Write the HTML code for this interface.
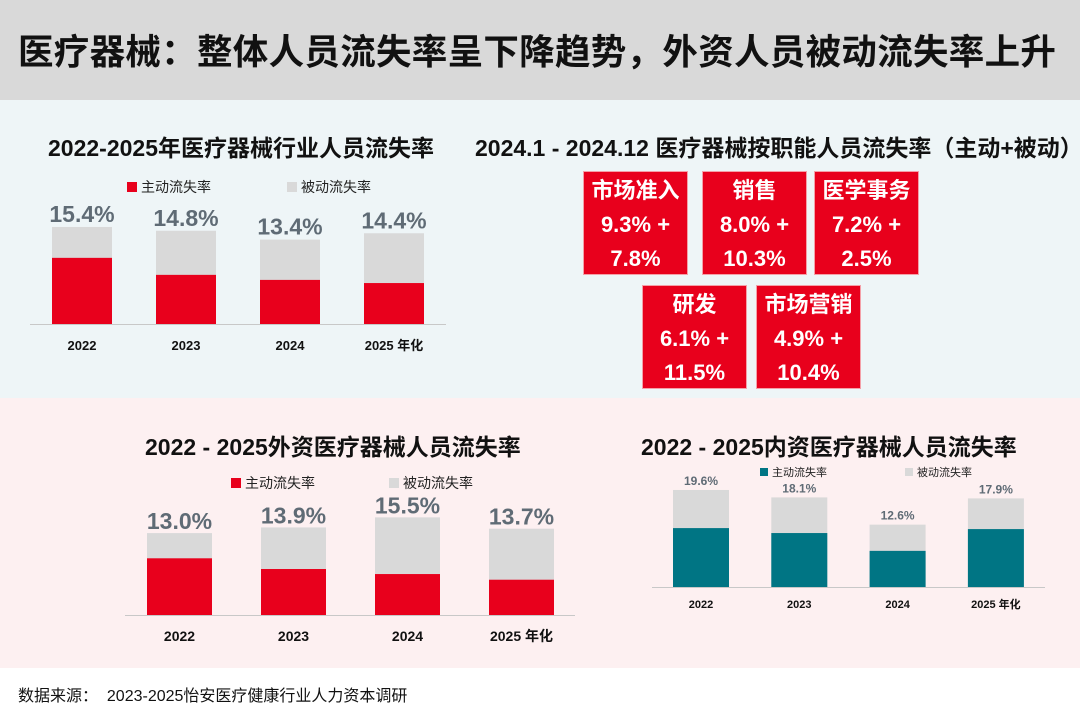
<!DOCTYPE html>
<html><head><meta charset="utf-8">
<style>
*{margin:0;padding:0;box-sizing:border-box}
body{width:1080px;height:718px;position:relative;background:#fff;font-family:"Liberation Sans","Noto Sans CJK SC",sans-serif;overflow:hidden}
.abs{position:absolute}
#titlebar{left:0;top:0;width:1080px;height:100px;background:#d9d9d9}
#title{left:18px;top:24px;font-size:35.5px;font-weight:bold;color:#111;white-space:nowrap;letter-spacing:0.3px}
#topbg{left:0;top:100px;width:1080px;height:298px;background:#eef5f7}
#botbg{left:0;top:398px;width:1080px;height:270px;background:#fdf0f1}
.ctitle{font-size:23px;font-weight:bold;color:#111;white-space:nowrap}
.box{position:absolute;background:#e8001c;color:#fff;font-weight:bold;text-align:center;font-size:22px;line-height:34px;padding-top:2px;border:1px solid #f4a0a8}
#source{left:18px;top:682px;font-size:16px;color:#111}
svg{position:absolute;left:0;top:0}
</style></head><body>
<div id="titlebar" class="abs"></div>
<div id="title" class="abs">医疗器械：整体人员流失率呈下降趋势，外资人员被动流失率上升</div>
<div id="topbg" class="abs"></div>
<div id="botbg" class="abs"></div>

<div class="abs ctitle" style="left:48px;top:129px">2022-2025年医疗器械行业人员流失率</div>
<div class="abs ctitle" style="left:475px;top:129px">2024.1 - 2024.12 医疗器械按职能人员流失率（主动+被动）</div>
<div class="abs ctitle" style="left:145px;top:428px">2022 - 2025外资医疗器械人员流失率</div>
<div class="abs ctitle" style="left:641px;top:428px">2022 - 2025内资医疗器械人员流失率</div>

<div class="box" style="left:583px;top:171px;width:105px;height:104px">市场准入<br>9.3% +<br>7.8%</div>
<div class="box" style="left:702px;top:171px;width:105px;height:104px">销售<br>8.0% +<br>10.3%</div>
<div class="box" style="left:814px;top:171px;width:105px;height:104px">医学事务<br>7.2% +<br>2.5%</div>
<div class="box" style="left:642px;top:285px;width:105px;height:104px">研发<br>6.1% +<br>11.5%</div>
<div class="box" style="left:756px;top:285px;width:105px;height:104px">市场营销<br>4.9% +<br>10.4%</div>

<div id="source" class="abs">数据来源：&nbsp;&nbsp;2023-2025怡安医疗健康行业人力资本调研</div>

<svg id="charts" width="1080" height="718"></svg>
<script>
const categories = ["2022","2023","2024","2025 年化"];
const overallTotal = [15.4,14.8,13.4,14.4];
const overallActive = [10.5,7.8,7.0,6.5];
const foreignTotal = [13.0,13.9,15.5,13.7];
const foreignActive = [9.0,7.3,6.5,5.6];
const domesticTotal = [19.6,18.1,12.6,17.9];
const domesticActive = [11.9,10.9,7.3,11.7];
const legendLabels = ["主动流失率","被动流失率"];

const NS="http://www.w3.org/2000/svg";
const svg=document.getElementById('charts');
function mk(tag,attrs,name){const e=document.createElementNS(NS,tag);for(const k in attrs)e.setAttribute(k,attrs[k]);


svg.appendChild(e);return e;}
function txt(x,y,s,size,color,weight,name){const t=mk('text',{x:x,y:y,'font-size':size,fill:color,'font-weight':weight,'text-anchor':'middle','font-family':'Liberation Sans, Noto Sans CJK SC, sans-serif'},name);t.textContent=s;return t;}

function chart(cfg,total,active,prefix){
  const yScale=v=>cfg.base-v*cfg.ppu;
  const xScale=i=>cfg.x0+i*cfg.step;
  mk('line',{x1:cfg.axL,x2:cfg.axR,y1:cfg.base+0.5,y2:cfg.base+0.5,stroke:'#c8c8c8','stroke-width':1},prefix+'-x-axis');
  for(let i=0;i<categories.length;i++){
    const x=xScale(i);
    mk('rect',{x:x,y:yScale(total[i]),width:cfg.w,height:cfg.base-yScale(total[i]),fill:'#d9d9d9'},prefix+'-passive-bar-'+i);
    mk('rect',{x:x,y:yScale(active[i]),width:cfg.w,height:cfg.base-yScale(active[i]),fill:cfg.color},prefix+'-active-bar-'+i);
    txt(x+cfg.w/2,yScale(total[i])-cfg.lblGap,total[i].toFixed(1)+'%',cfg.lblSize,'#5f6b75','bold',prefix+'-total-label-'+i);
    txt(x+cfg.w/2,cfg.base+cfg.catGap,categories[i],cfg.catSize,'#111','bold',prefix+'-category-label-'+i);
  }
  mk('rect',{x:cfg.legX,y:cfg.legY-cfg.legS,width:cfg.legS,height:cfg.legS,fill:cfg.color},prefix+'-legend-active-swatch');
  const t1=txt(cfg.legX+cfg.legS+4,cfg.legY,legendLabels[0],cfg.legSize,'#222','normal',prefix+'-legend-active');t1.setAttribute('text-anchor','start');
  mk('rect',{x:cfg.legX2,y:cfg.legY-cfg.legS,width:cfg.legS,height:cfg.legS,fill:'#d9d9d9'},prefix+'-legend-passive-swatch');
  const t2=txt(cfg.legX2+cfg.legS+4,cfg.legY,legendLabels[1],cfg.legSize,'#222','normal',prefix+'-legend-passive');t2.setAttribute('text-anchor','start');
}
chart({base:324,ppu:6.3,x0:52,step:104,w:60,axL:30,axR:446,color:'#e8001c',lblGap:5,lblSize:23,catGap:26,catSize:13,legX:127,legX2:287,legY:192,legS:10,legSize:14},overallTotal,overallActive,'overall');
chart({base:615,ppu:6.3,x0:147,step:114,w:65,axL:125,axR:575,color:'#e8001c',lblGap:4,lblSize:23,catGap:26,catSize:14,legX:231,legX2:389,legY:488,legS:10,legSize:14},foreignTotal,foreignActive,'foreign');
chart({base:587,ppu:4.95,x0:673,step:98.3,w:56,axL:652,axR:1045,color:'#007584',lblGap:5,lblSize:12,catGap:21,catSize:11,legX:760,legX2:905,legY:476,legS:8,legSize:11},domesticTotal,domesticActive,'domestic');
</script>
</body></html>
